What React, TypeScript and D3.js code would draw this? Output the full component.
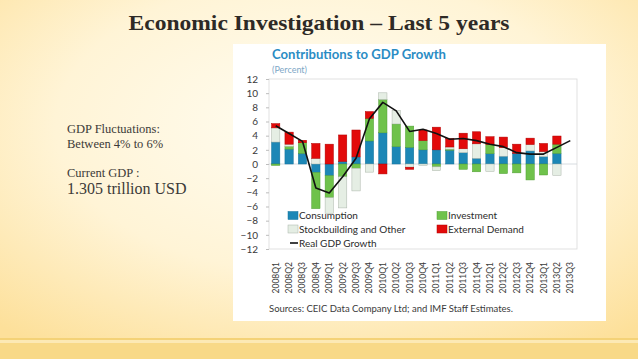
import { useRef, useEffect } from 'react'
import * as d3 from 'd3'

// quarters on the x axis (the last one has only the GDP line)
const quarters = [
  '2008Q1', '2008Q2', '2008Q3', '2008Q4', '2009Q1', '2009Q2', '2009Q3', '2009Q4',
  '2010Q1', '2010Q2', '2010Q3', '2010Q4', '2011Q1', '2011Q2', '2011Q3', '2011Q4',
  '2012Q1', '2012Q2', '2012Q3', '2012Q4', '2013Q1', '2013Q2', '2013Q3',
]

const consumption = [3.1, 2.1, 1.5, -1.2, -1.65, 0.35, 1.0, 3.25, 4.4, 2.45, 2.35, 2.0, 2.0, 1.95, 1.6, 0.8, 1.45, 1.1, 1.5, 1.85, 1.05, 1.5]
const investment = [-0.2, 0.4, 1.5, -5.1, -3.1, -1.8, -0.6, 3.2, 4.7, 3.2, 3.0, 1.3, -0.4, 0.15, -0.75, -1.1, 1.3, -1.35, -1.25, -2.25, -1.55, 1.3]
const stockbuilding = [2.0, 0.3, 0, 0.8, -2.2, -4.4, -3.2, -1.15, 0.95, 1.9, -0.45, -0.2, -0.55, 0.3, 0.55, 2.05, -1.05, 1.2, 0, 0.9, 0.7, -1.6]
const externalDemand = [0.6, 1.7, 0.35, 2.1, 2.8, 3.75, 3.8, 0.95, -1.4, 0, -0.3, 1.5, 3.2, 1.2, 2.2, 1.7, 1.1, 1.5, 1.3, 0.9, 1.15, 1.15]
const realGdp = [5.4, 4.3, 3.2, -3.4, -4.1, -1.8, 0.8, 6.4, 8.7, 7.5, 4.6, 4.9, 4.3, 3.5, 3.6, 3.3, 2.8, 2.45, 1.6, 1.4, 1.4, 2.35, 3.3]

const yTicks = [12, 10, 8, 6, 4, 2, 0, -2, -4, -6, -8, -10, -12]

const seriesKeys = ['consumption', 'investment', 'stockbuilding', 'external']
const seriesLabels = ['Consumption', 'Investment', 'Stockbuilding and Other', 'External Demand']
const seriesFill = ['#1c87b6', '#6fc24b', '#e5eee4', '#e20a0a']
const seriesStroke = ['#15739c', '#4f9e33', '#a9b3a8', '#b10000']

interface Row {
  quarter: string
  consumption: number
  investment: number
  stockbuilding: number
  external: number
}

const W = 638
const H = 359

const App = () => {
  const svgRef = useRef<SVGSVGElement>(null)

  useEffect(() => {
    if (!svgRef.current) return
    const svg = d3.select(svgRef.current)
    svg.selectAll('*').remove()

    // slide background
    const defs = svg.append('defs')
    const bg = defs.append('radialGradient')
      .attr('id', 'bg')
      .attr('cx', '50%').attr('cy', '35%').attr('r', '75%')
    bg.append('stop').attr('offset', '0%').attr('stop-color', '#fffdf3')
    bg.append('stop').attr('offset', '55%').attr('stop-color', '#fff4d6')
    bg.append('stop').attr('offset', '100%').attr('stop-color', '#fde09a')

    svg.append('rect').attr('width', W).attr('height', H).attr('fill', 'url(#bg)')
    svg.append('rect').attr('y', 338).attr('width', W).attr('height', 2).attr('fill', '#f4d277')
    svg.append('rect').attr('y', 340).attr('width', W).attr('height', 3).attr('fill', '#fce9b4')
    svg.append('rect').attr('y', 343).attr('width', W).attr('height', 16).attr('fill', '#f8d987')

    svg.append('text')
      .attr('x', 319).attr('y', 30)
      .attr('text-anchor', 'middle')
      .attr('textLength', 381)
      .attr('lengthAdjust', 'spacingAndGlyphs')
      .style('font-family', '"Liberation Serif", serif')
      .style('font-weight', 'bold')
      .style('font-size', '21px')
      .attr('fill', '#2e2a26')
      .text('Economic Investigation – Last 5 years')

    const side = svg.append('g')
      .style('font-family', '"Liberation Serif", serif')
      .attr('fill', '#3c3a38')
    side.append('text').attr('x', 67).attr('y', 133).style('font-size', '12.5px').text('GDP Fluctuations:')
    side.append('text').attr('x', 67).attr('y', 147.5).style('font-size', '12.5px').text('Between 4% to 6%')
    side.append('text').attr('x', 67).attr('y', 176.5).style('font-size', '12.5px').text('Current GDP :')
    side.append('text').attr('x', 67).attr('y', 194).style('font-size', '16px').text('1.305 trillion USD')

    // chart panel
    svg.append('rect')
      .attr('x', 233).attr('y', 44).attr('width', 373).attr('height', 277)
      .attr('fill', '#ffffff')

    const chart = svg.append('g').style('font-family', 'Lato, sans-serif')

    chart.append('text')
      .attr('x', 272).attr('y', 59)
      .attr('textLength', 174)
      .attr('lengthAdjust', 'spacingAndGlyphs')
      .style('font-size', '13px')
      .style('font-weight', 'bold')
      .attr('fill', '#2a8cc4')
      .text('Contributions to GDP Growth')
    chart.append('text')
      .attr('x', 272).attr('y', 73)
      .style('font-size', '9px')
      .attr('fill', '#7ea7c6')
      .text('(Percent)')

    const left = 269, right = 577, top = 79, bottom = 249

    const x = d3.scaleBand<string>()
      .domain(quarters)
      .range([left, right])
      .paddingInner(0.38)
      .paddingOuter(0.19)

    const y = d3.scaleLinear()
      .domain([-12, 12])
      .range([bottom, top])

    // frame
    chart.append('rect')
      .attr('x', left).attr('y', top)
      .attr('width', right - left).attr('height', bottom - top)
      .attr('fill', 'none')
      .attr('stroke', '#dadada')
      .attr('stroke-width', 0.8)

    // y axis
    const yAxis = chart.append('g')
      .attr('transform', `translate(${left},0)`)
      .call(d3.axisLeft(y).tickValues(yTicks).tickSize(3).tickPadding(8))
    yAxis.select('.domain').remove()
    yAxis.selectAll('line').attr('stroke', '#bdbdbd')
    yAxis.selectAll('text')
      .style('font-family', 'Lato, sans-serif')
      .style('font-size', '10px')
      .attr('fill', '#3a3a3a')

    // zero line
    chart.append('line')
      .attr('x1', left).attr('x2', right)
      .attr('y1', y(0)).attr('y2', y(0))
      .attr('stroke', '#cdd3d8')
      .attr('stroke-width', 0.8)

    // stacked bars
    const rows: Row[] = consumption.map((c, i) => ({
      quarter: quarters[i],
      consumption: c,
      investment: investment[i],
      stockbuilding: stockbuilding[i],
      external: externalDemand[i],
    }))

    const stacked = d3.stack<Row>()
      .keys(seriesKeys)
      .offset(d3.stackOffsetDiverging)(rows)

    stacked.forEach((layer, k) => {
      chart.append('g')
        .selectAll('rect')
        .data(layer.filter(d => d[1] !== d[0]))
        .join('rect')
        .attr('x', d => x(d.data.quarter) as number)
        .attr('width', x.bandwidth())
        .attr('y', d => y(Math.max(d[0], d[1])))
        .attr('height', d => Math.abs(y(d[0]) - y(d[1])))
        .attr('fill', seriesFill[k])
        .attr('stroke', seriesStroke[k])
        .attr('stroke-width', 0.5)
    })

    // real GDP growth line
    const line = d3.line<number>()
      .x((_, i) => (x(quarters[i]) as number) + x.bandwidth() / 2)
      .y(d => y(d))

    chart.append('path')
      .datum(realGdp)
      .attr('fill', 'none')
      .attr('stroke', '#111111')
      .attr('stroke-width', 1.6)
      .attr('stroke-linejoin', 'round')
      .attr('d', line)

    // x labels, rotated
    chart.append('g')
      .selectAll('text')
      .data(quarters)
      .join('text')
      .attr('transform', d => `translate(${(x(d) as number) + x.bandwidth() / 2 + 3},262) rotate(-90)`)
      .attr('text-anchor', 'end')
      .style('font-size', '8.5px')
      .attr('fill', '#3a3a3a')
      .text(d => d)

    // legend
    const legend = chart.append('g').style('font-size', '10px').attr('fill', '#2b2b2b')
    const legendPos = [
      { x: 288, y: 215.5 },
      { x: 437, y: 215.5 },
      { x: 288, y: 229 },
      { x: 437, y: 229 },
    ]
    seriesLabels.forEach((label, k) => {
      const p = legendPos[k]
      legend.append('rect')
        .attr('x', p.x).attr('y', p.y - 4)
        .attr('width', 10).attr('height', 8)
        .attr('fill', seriesFill[k])
        .attr('stroke', seriesStroke[k])
        .attr('stroke-width', 0.5)
      legend.append('text')
        .attr('x', p.x + 11).attr('y', p.y + 3.5)
        .text(label)
    })
    legend.append('line')
      .attr('x1', 290).attr('x2', 298)
      .attr('y1', 243).attr('y2', 243)
      .attr('stroke', '#111111')
      .attr('stroke-width', 1.6)
    legend.append('text')
      .attr('x', 299).attr('y', 246.5)
      .text('Real GDP Growth')

    chart.append('text')
      .attr('x', 269).attr('y', 312)
      .style('font-size', '9.5px')
      .attr('fill', '#3a3a3a')
      .text('Sources: CEIC Data Company Ltd; and IMF Staff Estimates.')
  }, [])

  return (
    <svg
      ref={svgRef}
      width={W}
      height={H}
      style={{ position: 'absolute', left: 0, top: 0, display: 'block' }}
    />
  )
}

export default App
